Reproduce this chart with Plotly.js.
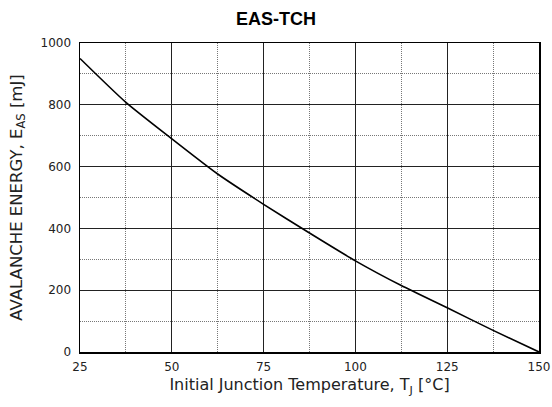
<!DOCTYPE html>
<html>
<head>
<meta charset="utf-8">
<script src="https://cdn.plot.ly/plotly-3.0.1.min.js"></script>
<style>
  html, body { margin: 0; padding: 0; background: #fff; }
  #chart { width: 552px; height: 407px; }
</style>
</head>
<body>
<div id="chart"></div>
<script>
// Initial junction temperature (°C) and single-pulse avalanche energy (mJ)
const junctionTemp = [25, 37.5, 50, 62.5, 75, 87.5, 100, 112.5, 125, 137.5, 150];
const avalancheEnergy = [950, 808, 690, 576, 478, 385, 295, 215, 143, 70, 0];

const xTicks = [25, 50, 75, 100, 125, 150];
const yTicks = [0, 200, 400, 600, 800, 1000];

const tickFont = { family: 'DejaVu Sans, sans-serif', size: 12, color: '#222' };
const xTitleFont = { family: 'DejaVu Sans, sans-serif', size: 16, color: '#222' };
const yTitleFont = { family: 'DejaVu Sans, sans-serif', size: 16.5, color: '#222' };

const trace = {
  x: junctionTemp,
  y: avalancheEnergy,
  type: 'scatter',
  mode: 'lines',
  line: { color: '#000', width: 1.6, shape: 'spline', smoothing: 0.6 },
  hoverinfo: 'x+y'
};

const axisCommon = {
  showline: true,
  mirror: true,
  linecolor: '#000',
  linewidth: 1.5,
  showgrid: true,
  gridcolor: '#222',
  gridwidth: 1,
  zeroline: false,
  ticks: '',
  tickfont: tickFont
};

const layout = {
  width: 552,
  height: 407,
  margin: { l: 80, r: 13, t: 43, b: 55 },
  paper_bgcolor: '#fff',
  plot_bgcolor: '#fff',
  showlegend: false,
  title: {
    text: '<b>EAS-TCH</b>',
    font: { family: 'Liberation Sans, Arial, sans-serif', size: 18, color: '#000' },
    x: 0.5,
    xanchor: 'center',
    y: 0.955,
    yanchor: 'middle'
  },
  xaxis: Object.assign({}, axisCommon, {
    range: [25, 150],
    tickmode: 'array',
    tickvals: xTicks,
    ticktext: xTicks.map(String),
    ticklabelstandoff: 3,
    minor: { dtick: 12.5, tick0: 25, showgrid: true, gridcolor: '#777', griddash: '1px,1px', gridwidth: 1 },
    title: {
      text: 'Initial Junction Temperature, T<sub>J</sub> [°C]',
      font: xTitleFont,
      standoff: 6
    }
  }),
  yaxis: Object.assign({}, axisCommon, {
    range: [0, 1000],
    tickmode: 'array',
    tickvals: yTicks,
    ticktext: yTicks.map(String),
    ticklabelstandoff: 5,
    minor: { dtick: 100, tick0: 0, showgrid: true, gridcolor: '#777', griddash: '1px,1px', gridwidth: 1 },
    title: {
      text: 'AVALANCHE ENERGY, E<sub>AS</sub> [mJ]',
      font: yTitleFont,
      standoff: 14
    }
  })
};

Plotly.newPlot('chart', [trace], layout, { displayModeBar: false, staticPlot: true });
</script>
</body>
</html>
